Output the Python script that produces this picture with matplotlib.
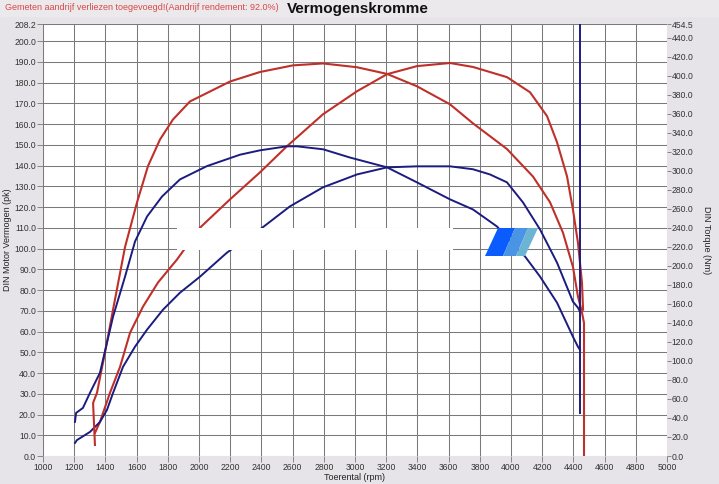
import matplotlib
matplotlib.use("Agg")
import matplotlib.pyplot as plt
from matplotlib.patches import Polygon, Rectangle

plt.rcParams['font.family'] = ['Liberation Sans', 'DejaVu Sans']

# red = gemeten (measured), blue = reference run
# power in pk (left axis), torque in Nm (right axis)
red_pk_rpm = [1333, 1365, 1429, 1494, 1558, 1641, 1737, 1859, 2006, 2199, 2391, 2564,
              2795, 3013, 3205, 3397, 3609, 3756, 3974, 4122, 4231, 4295, 4359, 4397,
              4429, 4455, 4462]
red_pk = [11.1, 16.4, 30.4, 43.0, 59.4, 72.0, 83.6, 94.7, 110.0, 123.7, 136.7, 149.3,
          164.7, 175.8, 184.0, 187.9, 189.4, 187.5, 182.6, 175.3, 163.8, 151.2, 134.8, 118.8,
          102.9, 83.6, 70.5]

red_nm_rpm = [1333, 1321, 1346, 1397, 1449, 1526, 1603, 1673, 1750, 1833, 1942, 2199,
              2391, 2603, 2795, 3013, 3205, 3397, 3609, 3756, 3974, 4141, 4250, 4333,
              4397, 4429, 4455, 4468, 4468]
red_nm = [11.6, 55.9, 66.4, 108.6, 154.0, 220.0, 267.0, 305.0, 333.0, 354.0, 373.0, 394.0,
          404.0, 411.0, 413.0, 409.0, 402.0, 389.0, 370.0, 350.0, 323.0, 294.0, 267.0, 235.0,
          199.0, 168.0, 151.0, 140.0, 0.0]

blue_pk_rpm = [1205, 1218, 1250, 1301, 1365, 1410, 1449, 1513, 1590, 1667, 1769, 1878,
               2006, 2179, 2391, 2583, 2795, 3013, 3205, 3397, 3609, 3756, 3865, 3974,
               4077, 4186, 4295, 4397, 4429, 4442]
blue_pk = [6.3, 7.7, 9.2, 11.6, 16.4, 22.2, 30.4, 43.0, 52.7, 60.9, 70.5, 78.7,
           86.4, 98.0, 109.2, 120.3, 129.5, 135.7, 139.1, 139.6, 139.6, 138.2, 135.7, 131.9,
           122.2, 109.2, 93.2, 74.4, 71.5, 69.6]

blue_nm_rpm = [1205, 1212, 1256, 1301, 1365, 1449, 1526, 1590, 1667, 1763, 1878, 2051,
               2263, 2391, 2564, 2628, 2795, 2968, 3205, 3397, 3609, 3756, 3910, 4090,
               4186, 4295, 4397, 4429, 4442]
blue_nm = [35.9, 45.3, 50.6, 66.4, 87.5, 146.6, 188.8, 225.7, 252.0, 273.0, 291.0, 305.0,
           317.0, 321.6, 325.8, 325.8, 322.7, 314.0, 303.7, 287.9, 270.0, 259.4, 241.5, 209.9,
           188.8, 161.3, 125.5, 115.0, 111.8]

# blue end-of-run vertical line (Nm axis)
blue_end_rpm = [4444, 4444]
blue_end_nm = [45, 470]

pk_ticks = [i * 10.0 for i in range(21)] + [208.2]
nm_ticks = [i * 20.0 for i in range(23)] + [454.5]
rpm_ticks = list(range(1000, 5001, 200))

red = '#c0302a'
blue = '#1c1c80'

fig = plt.figure(figsize=(7.19, 4.84), dpi=100)
fig.patch.set_facecolor('#e6e4e8')
fig.patches.append(Rectangle((0, 1 - 17 / 484), 1, 17 / 484, transform=fig.transFigure,
                             facecolor='#ece9ed', edgecolor='none', zorder=0))

ax = fig.add_axes([43 / 719, 1 - 456 / 484, 624 / 719, 432 / 484])
ax.set_facecolor('white')
ax.set_xlim(1000, 5000)
ax.set_ylim(0, 208.2)
ax.set_xticks(rpm_ticks)
ax.set_yticks(pk_ticks)
ax.set_yticklabels(['%.1f' % v for v in pk_ticks])
ax.grid(True, color='#7a7a7a', linewidth=0.75)
ax.tick_params(direction='out', length=4, width=0.6, color='#777777',
               labelsize=6.2, labelcolor='#333333', pad=1)
for s in ax.spines.values():
    s.set_visible(False)

ax2 = ax.twinx()
ax2.set_ylim(0, 454.5)
ax2.set_yticks(nm_ticks)
ax2.set_yticklabels(['%.1f' % v for v in nm_ticks])
ax2.tick_params(direction='out', length=3, width=0.6, color='#777777',
                labelsize=6.2, labelcolor='#333333', pad=0.5)
for s in ax2.spines.values():
    s.set_visible(False)

ax.plot(red_pk_rpm, red_pk, color=red, lw=1.5)
ax.plot(blue_pk_rpm, blue_pk, color=blue, lw=1.4)
ax2.plot(red_nm_rpm, red_nm, color=red, lw=1.5)
ax2.plot(blue_nm_rpm, blue_nm, color=blue, lw=1.4)
ax2.plot(blue_end_rpm, blue_end_nm, color=blue, lw=1.4)

ax.set_xlabel("Toerental (rpm)", fontsize=6.5, color='#222222')
ax.xaxis.set_label_coords(0.5, -0.04)
ax.set_ylabel("DIN Motor Vermogen (pk)", fontsize=6.5, color='#222222')
ax.yaxis.set_label_coords(-0.05, 0.5)
ax2.set_ylabel("DIN Torque (Nm)", fontsize=6.5, color='#222222', rotation=270,
               va='center')
ax2.yaxis.set_label_coords(1.064, 0.5)

fig.text(5 / 719, 1 - 7 / 484, "Gemeten aandrijf verliezen toegevoegd!(Aandrijf rendement: 92.0%)",
         fontsize=6.5, color='#d84848', va='center', ha='left')
fig.text(358 / 719, 1 - 9 / 484, "Vermogenskromme", fontsize=11, fontweight='bold',
         color='#111111', va='center', ha='center')

# watermark band and logo
def px(x, y):
    return (x / 719, 1 - y / 484)

fig.patches.append(Polygon([px(177, 228), px(453, 228), px(453, 250), px(177, 250)],
                           closed=True, transform=fig.transFigure,
                           facecolor='white', edgecolor='none', zorder=5))
for (tl, tr, br, bl), c in [((498, 515, 503, 485), '#0a5cff'),
                            ((515, 528, 516, 503), '#4a94e6'),
                            ((528, 538, 525, 516), '#6cb4d4')]:
    fig.patches.append(Polygon([px(tl, 228), px(tr, 228), px(br, 256), px(bl, 256)],
                               closed=True, transform=fig.transFigure,
                               facecolor=c, edgecolor='none', zorder=5))

fig.savefig("out.png", dpi=100, facecolor=fig.get_facecolor())
